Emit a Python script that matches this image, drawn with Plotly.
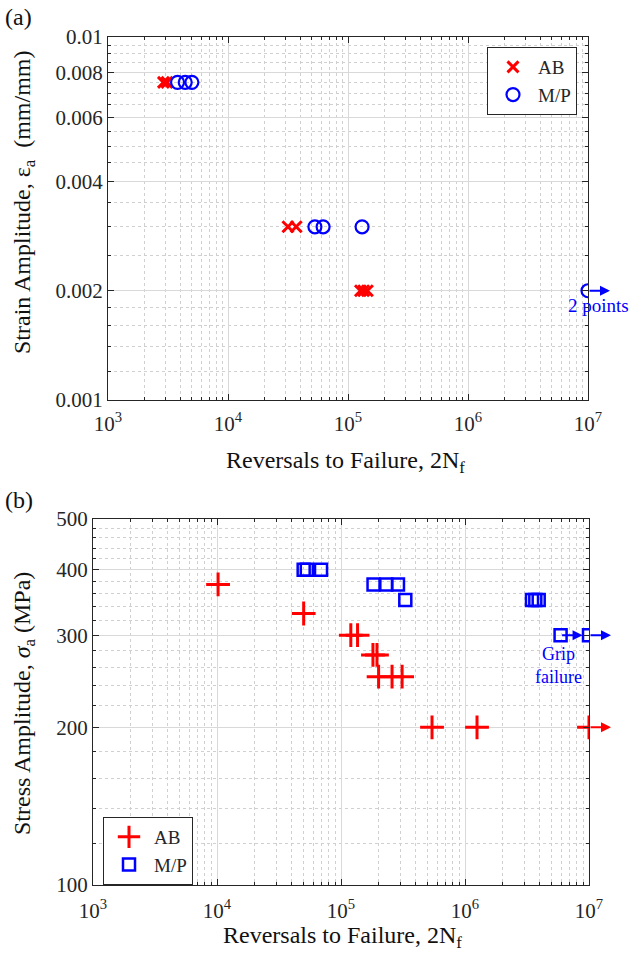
import numpy as np
import plotly.graph_objects as go

# ---------------- data ----------------
# Panel (a): strain-controlled
a_ab_rev = [2900, 3100, 31600, 37000, 127000, 135000, 145000]
a_ab_strain = [0.0075, 0.0075, 0.003, 0.003, 0.002, 0.002, 0.002]
a_mp_rev = [3800, 4400, 5000, 53000, 62000, 131000, 1e7]
a_mp_strain = [0.0075, 0.0075, 0.0075, 0.003, 0.003, 0.003, 0.002]
a_runout_rev = [1e7]
a_runout_strain = [0.002]

# Panel (b): stress-controlled
b_ab_rev = [10200, 50000, 120000, 136000, 181000, 195000, 201000, 258000, 311000,
            542000, 1.25e6, 1e7]
b_ab_stress = [375, 330, 300, 300, 275, 275, 250, 250, 250, 200, 200, 200]
b_mp_rev = [50000, 53000, 69000, 183000, 232000, 288000, 330000,
            3.47e6, 3.69e6, 3.93e6, 5.9e6, 1e7]
b_mp_stress = [400, 400, 400, 375, 375, 375, 350, 350, 350, 350, 300, 300]
b_ab_runout_rev = [1e7]
b_ab_runout_stress = [200]
b_mp_runout_rev = [5.9e6, 1e7]
b_mp_runout_stress = [300, 300]

x_ticks = [1e3, 1e4, 1e5, 1e6, 1e7]
x_ticktext = ["10<sup>3</sup>", "10<sup>4</sup>", "10<sup>5</sup>", "10<sup>6</sup>", "10<sup>7</sup>"]
a_y_ticks = [0.001, 0.002, 0.004, 0.006, 0.008, 0.01]
a_y_ticktext = ["0.001", "0.002", "0.004", "0.006", "0.008", "0.01"]
a_y_minor = [0.0012, 0.0014, 0.0016, 0.0018, 0.0025, 0.003, 0.0035, 0.0045, 0.005,
             0.0055, 0.0065, 0.007, 0.0075, 0.0085, 0.009, 0.0095]
b_y_ticks = [100, 200, 300, 400, 500]
b_y_ticktext = ["100", "200", "300", "400", "500"]
b_y_minor = [120, 140, 160, 180, 220, 240, 260, 280, 320, 340, 360, 380, 420, 440, 460, 480]
x_minor = [k * 10 ** e for e in range(3, 7) for k in range(2, 10)]

RED = "#ff0000"
BLUE = "#0000ff"
AX = "#262626"
FONT = "Liberation Serif"
W, H = 635, 960

fig = go.Figure()

fig.add_trace(go.Scatter(x=a_ab_rev, y=a_ab_strain, mode="markers", name="AB",
                         marker=dict(symbol="x-thin", size=11, color=RED,
                                     line=dict(color=RED, width=3)),
                         xaxis="x", yaxis="y", legend="legend"))
fig.add_trace(go.Scatter(x=a_mp_rev, y=a_mp_strain, mode="markers", name="M/P",
                         marker=dict(symbol="circle-open", size=13, color=BLUE,
                                     line=dict(color=BLUE, width=2.2)),
                         xaxis="x", yaxis="y", legend="legend"))
fig.add_trace(go.Scatter(x=b_ab_rev, y=b_ab_stress, mode="markers", name="AB",
                         marker=dict(symbol="cross-thin", size=17, color=RED,
                                     line=dict(color=RED, width=3)),
                         xaxis="x2", yaxis="y2", legend="legend2"))
fig.add_trace(go.Scatter(x=b_mp_rev, y=b_mp_stress, mode="markers", name="M/P",
                         marker=dict(symbol="square-open", size=12, color=BLUE,
                                     line=dict(color=BLUE, width=2.5)),
                         xaxis="x2", yaxis="y2", legend="legend2"))

common_axis = dict(type="log", showline=True, linecolor=AX, linewidth=1, mirror="allticks",
                   ticks="inside", ticklen=6, tickcolor=AX, tickwidth=1,
                   showgrid=True, gridcolor="#d9d9d9", gridwidth=1,
                   zeroline=False, tickfont=dict(family=FONT, size=21, color=AX),
                   automargin=False, tickmode="array")

def minor(vals):
    return dict(tickmode="array", tickvals=vals, ticks="inside", ticklen=3, tickcolor=AX,
                showgrid=True, gridcolor="#d0d0d0", griddash="dot", gridwidth=1)

legend_style = dict(xanchor="left", yanchor="top", bordercolor=AX, borderwidth=1,
                    bgcolor="white", font=dict(family=FONT, size=19, color=AX),
                    tracegroupgap=0, itemwidth=40)

fig.update_layout(
    width=W, height=H, margin=dict(l=0, r=0, t=0, b=0),
    paper_bgcolor="white", plot_bgcolor="white",
    font=dict(family=FONT, color=AX),
    showlegend=True,
    xaxis=dict(common_axis, domain=[108 / W, 588 / W], range=[3, 7], anchor="y",
               tickvals=x_ticks, ticktext=x_ticktext, minor=minor(x_minor),
               ticklabelstandoff=5),
    yaxis=dict(common_axis, domain=[1 - 400 / H, 1 - 37 / H], range=[-3, -2], anchor="x",
               tickvals=a_y_ticks, ticktext=a_y_ticktext, minor=minor(a_y_minor)),
    xaxis2=dict(common_axis, domain=[93 / W, 589 / W], range=[3, 7], anchor="y2",
                tickvals=x_ticks, ticktext=x_ticktext, minor=minor(x_minor),
                ticklabelstandoff=7),
    yaxis2=dict(common_axis, domain=[1 - 885 / H, 1 - 519 / H], range=[2, np.log10(500)],
                anchor="x2", tickvals=b_y_ticks, ticktext=b_y_ticktext, minor=minor(b_y_minor)),
    legend=dict(legend_style, x=487 / W, y=1 - 47 / H),
    legend2=dict(legend_style, x=103 / W, y=1 - 817 / H),
)

ann = []
# run-out arrows
def arrows(xs, ys, xr, yr, color, length=22):
    for xv, yv in zip(xs, ys):
        ann.append(dict(x=np.log10(xv), y=np.log10(yv), xref=xr, yref=yr, text="",
                        showarrow=True, ax=-length, ay=0, xshift=length,
                        arrowhead=2, arrowsize=1, arrowwidth=2, arrowcolor=color,
                        standoff=0, startstandoff=0))

arrows(a_runout_rev, a_runout_strain, "x", "y", BLUE)
arrows(b_ab_runout_rev, b_ab_runout_stress, "x2", "y2", RED)
arrows(b_mp_runout_rev, b_mp_runout_stress, "x2", "y2", BLUE)

ann.append(dict(x=np.log10(a_runout_rev[0]), y=np.log10(a_runout_strain[0]), xref="x", yref="y",
                text="2 points", showarrow=False, xshift=10, yshift=-15,
                font=dict(family=FONT, size=19, color=BLUE)))
ann.append(dict(x=np.log10(b_mp_runout_rev[0]), y=np.log10(b_mp_runout_stress[0]), xref="x2", yref="y2",
                text="Grip<br>failure", showarrow=False, xshift=-2, yshift=-30,
                font=dict(family=FONT, size=18, color=BLUE)))

# panel labels and axis titles
def ptext(txt, px, py, size, angle=0, xanchor="center", yanchor="middle"):
    ann.append(dict(x=px / W, y=1 - py / H, xref="paper", yref="paper", text=txt,
                    showarrow=False, textangle=angle, xanchor=xanchor, yanchor=yanchor,
                    font=dict(family=FONT, size=size, color="#111111")))

ptext("(a)", 3, 17, 24, xanchor="left")
ptext("(b)", 3, 500, 24, xanchor="left")
ptext("Strain Amplitude, ε<sub>a</sub>  (mm/mm)", 24, 202, 24, angle=-90)
ptext("Reversals to Failure, 2N<sub>f</sub>", 345, 462, 24)
ptext("Stress Amplitude, <i>σ</i><sub>a</sub> (MPa)", 24, 704, 24, angle=-90)
ptext("Reversals to Failure, 2N<sub>f</sub>", 342, 937, 24)

fig.update_layout(annotations=ann)
fig.write_html("out.html", config={"displayModeBar": False},
               post_script="document.body.style.margin='0';document.body.style.overflow='hidden';")
